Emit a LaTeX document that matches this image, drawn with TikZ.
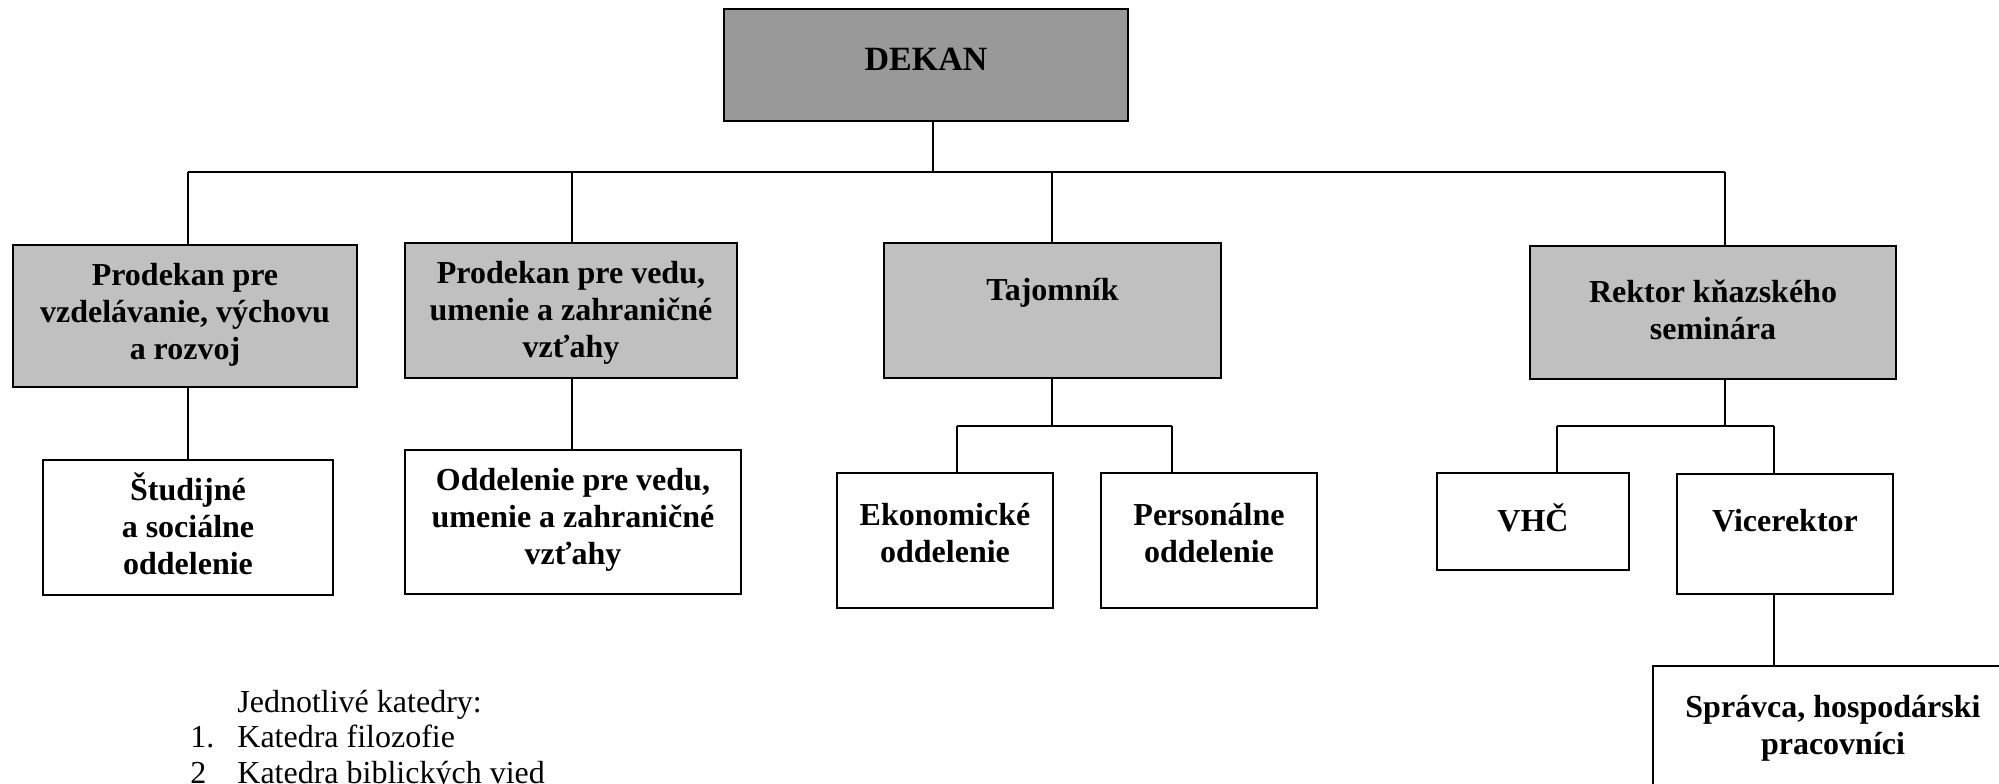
\documentclass[tikz,border=0pt]{standalone}
\usepackage{fontspec}
\setmainfont{Liberation Serif}
\begin{document}
\begin{tikzpicture}[x=0.5pt,y=-0.5pt,
  box/.style={draw=black,line width=1.2pt,rectangle,inner sep=0pt,fill=white},
  dark/.style={box,fill=dgray},
  light/.style={box,fill=lgray},
  lbl/.style={anchor=north,inner sep=0pt,align=center,font=\fontsize{16}{18.4}\selectfont\bfseries},
  plain/.style={anchor=base west,inner sep=0pt,font=\fontsize{16}{18.4}\selectfont},
  conn/.style={draw=black,line width=0.85pt}]
\definecolor{dgray}{HTML}{999999}
\definecolor{lgray}{HTML}{C0C0C0}
\newcommand\tstr{\rule{0pt}{15pt}}
\useasboundingbox (0,0) rectangle (1999,783);
\fill[white] (0,0) rectangle (1999,783);
\clip (0,0) rectangle (1999,783);

% boxes
\node[dark,minimum width=202pt,minimum height=56pt] (dekan) at (926,65) {};
\node[light,minimum width=172pt,minimum height=71pt] (p1) at (185,316) {};
\node[light,minimum width=166pt,minimum height=67.5pt] (p2) at (571,310.5) {};
\node[light,minimum width=168.5pt,minimum height=67.5pt] (taj) at (1052.5,310.5) {};
\node[light,minimum width=183pt,minimum height=66.5pt] (rek) at (1713,312.5) {};
\node[box,minimum width=145pt,minimum height=67.5pt] (stud) at (188,527.5) {};
\node[box,minimum width=168pt,minimum height=72pt] (oddv) at (573,522) {};
\node[box,minimum width=108pt,minimum height=67.5pt] (ekon) at (945,540.5) {};
\node[box,minimum width=108pt,minimum height=67.5pt] (pers) at (1209,540.5) {};
\node[box,minimum width=96pt,minimum height=48.5pt] (vhc) at (1533,521.5) {};
\node[box,minimum width=108pt,minimum height=60pt] (vice) at (1785,534) {};
\node[box,minimum width=180pt,minimum height=77pt] (sprav) at (1833,743) {};

% texts
\node[lbl,font=\fontsize{17}{19.5}\selectfont\bfseries] (dekan-t) at (926,40) {\tstr DEKAN};
\node[lbl] (p1-t) at (185,255) {\tstr Prodekan pre\\vzdelávanie, výchovu\\a rozvoj};
\node[lbl] (p2-t) at (571,253) {\tstr Prodekan pre vedu,\\umenie a zahraničné\\vzťahy};
\node[lbl] (taj-t) at (1052.5,270) {\tstr Tajomník};
\node[lbl] (rek-t) at (1713,272) {\tstr Rektor kňazského\\seminára};
\node[lbl] (stud-t) at (188,470) {\tstr Študijné\\a sociálne\\oddelenie};
\node[lbl] (oddv-t) at (573,460) {\tstr Oddelenie pre vedu,\\umenie a zahraničné\\vzťahy};
\node[lbl] (ekon-t) at (945,495) {\tstr Ekonomické\\oddelenie};
\node[lbl] (pers-t) at (1209,495) {\tstr Personálne\\oddelenie};
\node[lbl] (vhc-t) at (1533,501) {\tstr VHČ};
\node[lbl] (vice-t) at (1785,501) {\tstr Vicerektor};
\node[lbl] (sprav-t) at (1833,687) {\tstr Správca, hospodárski\\pracovníci};

\node[plain] (kat0) at (237,712) {Jednotlivé katedry:};
\node[plain] (n1) at (190,747) {1.};
\node[plain] (kat1) at (237,747) {Katedra filozofie};
\node[plain] (n2) at (190,783) {2};
\node[plain] (kat2) at (237,783) {Katedra biblických vied};

% bus coordinates
\coordinate (d0) at (933,172);
\coordinate (d1) at (188,172);
\coordinate (d2) at (572,172);
\coordinate (d3) at (1052,172);
\coordinate (d4) at (1725,172);
\coordinate (t0) at (1052,426);
\coordinate (t1) at (957,426);
\coordinate (t2) at (1172,426);
\coordinate (r0) at (1725,426);
\coordinate (r1) at (1557,426);
\coordinate (r2) at (1774,426);

% connectors
\draw[conn] (dekan.south -| d0) -- (d0);
\draw[conn] (d1) -- (d4);
\draw[conn] (d1) -- (d1 |- p1.north);
\draw[conn] (d2) -- (d2 |- p2.north);
\draw[conn] (d3) -- (d3 |- taj.north);
\draw[conn] (d4) -- (d4 |- rek.north);
\draw[conn] (p1.south -| d1) -- (d1 |- stud.north);
\draw[conn] (p2.south -| d2) -- (d2 |- oddv.north);
\draw[conn] (taj.south -| t0) -- (t0);
\draw[conn] (t1) -- (t2);
\draw[conn] (t1) -- (t1 |- ekon.north);
\draw[conn] (t2) -- (t2 |- pers.north);
\draw[conn] (rek.south -| r0) -- (r0);
\draw[conn] (r1) -- (r2);
\draw[conn] (r1) -- (r1 |- vhc.north);
\draw[conn] (r2) -- (r2 |- vice.north);
\draw[conn] (vice.south -| r2) -- (r2 |- sprav.north);
\end{tikzpicture}
\end{document}
